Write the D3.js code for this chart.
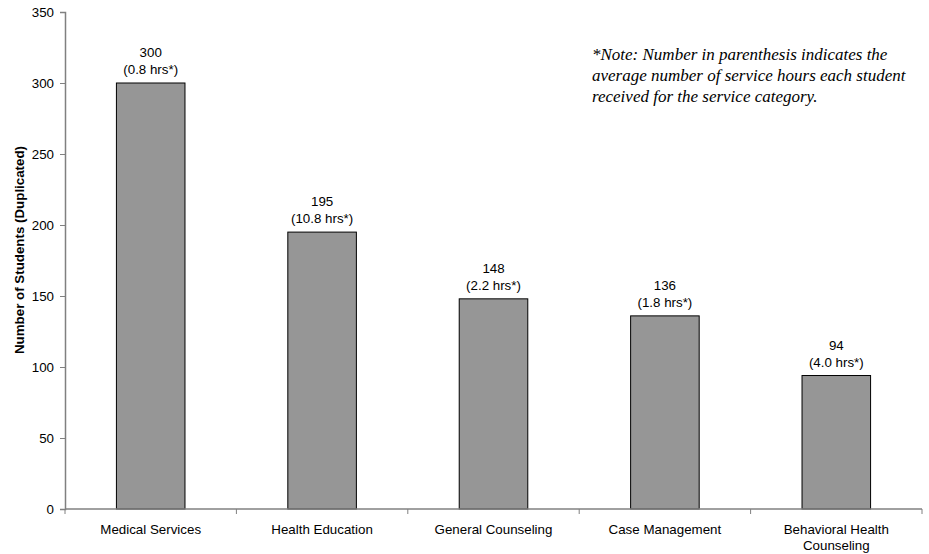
<!DOCTYPE html>
<html>
<head>
<meta charset="utf-8">
<script src="https://cdn.jsdelivr.net/npm/d3@7"></script>
<style>
  html, body { margin: 0; padding: 0; background: #fff; }
  svg { display: block; font-family: Arial, "Liberation Sans", sans-serif; }
</style>
</head>
<body>
<svg id="chart" width="929" height="554"></svg>
<script>
const categories = [["Medical Services"], ["Health Education"], ["General Counseling"], ["Case Management"], ["Behavioral Health", "Counseling"]];
const students = [300, 195, 148, 136, 94];
const hours = ["0.8", "10.8", "2.2", "1.8", "4.0"];
const yTicks = [0, 50, 100, 150, 200, 250, 300, 350];
const yTitle = "Number of Students (Duplicated)";
const noteLines = ["*Note: Number in parenthesis indicates the", "average number of service hours each student", "received for the service category."];

const data = categories.map((c, i) => ({ key: c.join(" "), lines: c, v: students[i], h: hours[i] }));

const svg = d3.select("#chart");
const m = { left: 65, right: 7, top: 12, bottom: 45 };
const W = 929, H = 554;
const FS = 13.33;

const x = d3.scaleBand().domain(data.map(d => d.key)).range([m.left, W - m.right]).paddingInner(0.6).paddingOuter(0.3);
const y = d3.scaleLinear().domain([0, 350]).range([H - m.bottom, m.top]);

const axisColor = "#808080";

// bars
svg.append("g").selectAll("rect").data(data).join("rect")
  .attr("x", d => x(d.key))
  .attr("y", d => y(d.v))
  .attr("width", x.bandwidth())
  .attr("height", d => y(0) - y(d.v))
  .attr("fill", "#969696")
  .attr("stroke", "#000")
  .attr("stroke-width", 1);

// y axis
const yAxis = svg.append("g").attr("transform", `translate(${m.left},0)`)
  .call(d3.axisLeft(y).tickValues(yTicks).tickSize(5).tickPadding(6));
yAxis.select(".domain").attr("stroke", axisColor).attr("stroke-width", 1.5);
yAxis.selectAll(".tick line").attr("stroke", axisColor);
yAxis.selectAll("text").attr("font-size", FS).attr("fill", "#000").attr("font-family", "Arial, 'Liberation Sans', sans-serif");

// x axis with ticks at band boundaries
const step = x.step();
const boundaries = d3.range(data.length + 1).map(i => m.left + i * step);
const xAxisG = svg.append("g");
xAxisG.append("line")
  .attr("x1", m.left).attr("x2", W - m.right)
  .attr("y1", y(0)).attr("y2", y(0))
  .attr("stroke", axisColor).attr("stroke-width", 1.5);
xAxisG.selectAll("line.tk").data(boundaries).join("line").attr("class", "tk")
  .attr("x1", d => d).attr("x2", d => d)
  .attr("y1", y(0)).attr("y2", y(0) + 5)
  .attr("stroke", axisColor);
const xl = xAxisG.selectAll("text").data(data).join("text")
  .attr("x", d => x(d.key) + x.bandwidth() / 2)
  .attr("y", y(0) + 25)
  .attr("text-anchor", "middle")
  .attr("font-size", FS);
xl.selectAll("tspan").data(d => d.lines).join("tspan")
  .attr("x", function() { return d3.select(this.parentNode).attr("x"); })
  .attr("dy", (d, i) => i === 0 ? 0 : 16)
  .text(d => d);

// bar labels
const lbl = svg.append("g").selectAll("text").data(data).join("text")
  .attr("text-anchor", "middle")
  .attr("font-size", FS);
lbl.append("tspan")
  .attr("x", d => x(d.key) + x.bandwidth() / 2)
  .attr("y", d => y(d.v) - 26)
  .text(d => d.v);
lbl.append("tspan")
  .attr("x", d => x(d.key) + x.bandwidth() / 2)
  .attr("y", d => y(d.v) - 9)
  .text(d => `(${d.h} hrs*)`);

// y title
svg.append("text")
  .attr("transform", `translate(24,250) rotate(-90)`)
  .attr("text-anchor", "middle")
  .attr("font-size", FS)
  .attr("font-weight", "bold")
  .text(yTitle);

// note
svg.append("g").selectAll("text").data(noteLines).join("text")
  .attr("x", 592)
  .attr("y", (d, i) => 60 + i * 21)
  .attr("font-family", "'Liberation Serif', 'DejaVu Serif', serif")
  .attr("font-style", "italic")
  .attr("font-size", 17)
  .text(d => d);
</script>
</body>
</html>
